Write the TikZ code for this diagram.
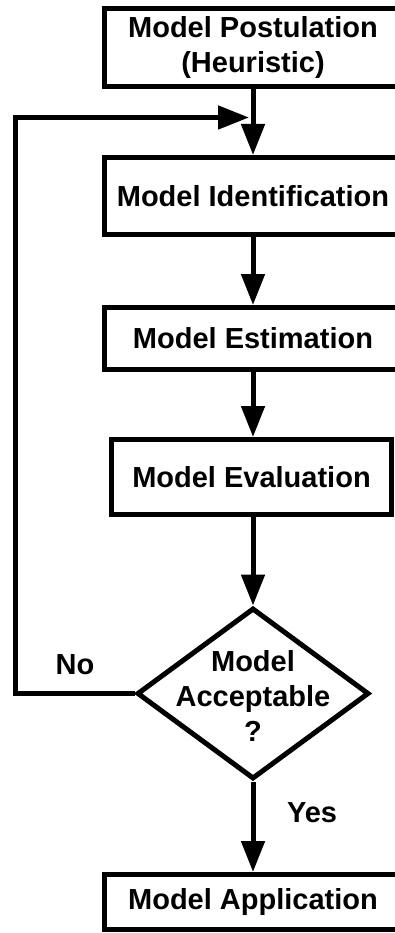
\documentclass[tikz,border=0pt]{standalone}
\usepackage{fontspec}
\setmainfont{Liberation Sans}
\usetikzlibrary{arrows.meta,shapes.geometric}
\begin{document}
\begin{tikzpicture}[x=1pt,y=-1pt,
  txt/.style={font=\fontsize{29}{35}\selectfont\bfseries, align=center, inner sep=0pt},
  box/.style={txt, draw, line width=5pt, minimum width=297pt},
  lw/.style={line width=5pt},
  arr/.style={line width=5pt, -{Triangle[length=31pt,width=23pt]}}
]
\useasboundingbox (0,0) rectangle (395,933);
\clip (0,0) rectangle (395,933);
% boxes
\node[box, minimum height=78pt] (post) at (253,47.5) {Model Postulation\\(Heuristic)};
\node[box, minimum height=77pt] (ident) at (253,196) {Model Identification};
\node[box, minimum height=62pt] (est) at (253,338.5) {Model Estimation};
\node[box, minimum height=75pt, minimum width=280pt] (eval) at (251.5,477) {Model Evaluation};
\node[draw, lw, shape=diamond, inner sep=0pt, minimum width=232pt, minimum height=171pt] (acc) at (253,693.5) {};
\node[txt] (acctxt) at (253,696) {Model\\Acceptable\\?};
\node[box, minimum height=55pt] (app) at (253,902) {Model Application};
% labels
\node[txt] (no) at (75,665) {No};
\node[txt] (yes) at (312,813) {Yes};
% connectors
\coordinate (fbl) at (15.5,117.5);
\coordinate (join) at (249,117.5);
\draw[arr] (post.south) -- (ident.north);
\draw[arr] (ident.south) -- (est.north);
\draw[arr] (est.south) -- (est.south |- eval.north);
\draw[arr] (eval.south -| acc.north) -- (acc.north);
\draw[arr] (acc.south) -- (app.north);
\draw[arr] (acc.west) -| (fbl) -- (join);
\end{tikzpicture}
\end{document}
